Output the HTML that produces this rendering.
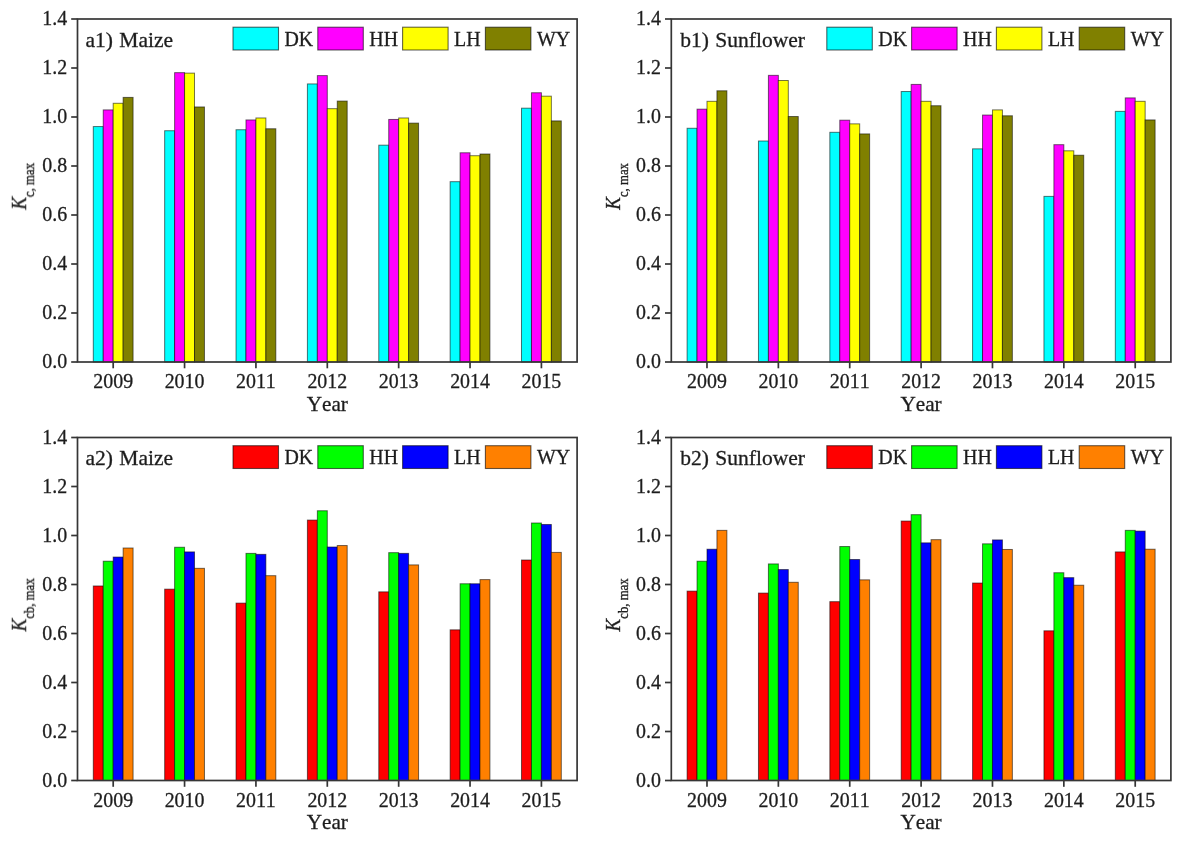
<!DOCTYPE html>
<html><head><meta charset="utf-8"><title>chart</title>
<style>
html,body{margin:0;padding:0;background:#fff;}
body{width:1181px;height:842px;overflow:hidden;}
svg{display:block;font-family:"Liberation Serif",serif;}
text{fill:#1e1e1e;stroke:#1e1e1e;stroke-width:0.3px;font-kerning:none;}
</style></head><body>
<svg width="1181" height="842" viewBox="0 0 1181 842">
<rect width="1181" height="842" fill="#ffffff"/>
<defs><filter id="bl" x="0" y="0" width="1181" height="842" filterUnits="userSpaceOnUse"><feGaussianBlur stdDeviation="0.55"/></filter></defs>
<g id="all" filter="url(#bl)">
<g>
<rect x="93.29" y="126.55" width="9.95" height="235.45" fill="#00ffff" stroke="#000" stroke-opacity="0.55" stroke-width="1.0"/>
<rect x="103.24" y="109.90" width="9.95" height="252.10" fill="#ff00ff" stroke="#000" stroke-opacity="0.55" stroke-width="1.0"/>
<rect x="113.19" y="103.28" width="9.95" height="258.72" fill="#ffff00" stroke="#000" stroke-opacity="0.55" stroke-width="1.0"/>
<rect x="123.14" y="97.40" width="9.95" height="264.60" fill="#808000" stroke="#000" stroke-opacity="0.55" stroke-width="1.0"/>
<rect x="164.66" y="130.72" width="9.95" height="231.28" fill="#00ffff" stroke="#000" stroke-opacity="0.55" stroke-width="1.0"/>
<rect x="174.61" y="72.65" width="9.95" height="289.35" fill="#ff00ff" stroke="#000" stroke-opacity="0.55" stroke-width="1.0"/>
<rect x="184.56" y="73.14" width="9.95" height="288.86" fill="#ffff00" stroke="#000" stroke-opacity="0.55" stroke-width="1.0"/>
<rect x="194.51" y="106.96" width="9.95" height="255.04" fill="#808000" stroke="#000" stroke-opacity="0.55" stroke-width="1.0"/>
<rect x="236.03" y="129.74" width="9.95" height="232.26" fill="#00ffff" stroke="#000" stroke-opacity="0.55" stroke-width="1.0"/>
<rect x="245.98" y="119.94" width="9.95" height="242.06" fill="#ff00ff" stroke="#000" stroke-opacity="0.55" stroke-width="1.0"/>
<rect x="255.93" y="117.98" width="9.95" height="244.02" fill="#ffff00" stroke="#000" stroke-opacity="0.55" stroke-width="1.0"/>
<rect x="265.88" y="128.76" width="9.95" height="233.24" fill="#808000" stroke="#000" stroke-opacity="0.55" stroke-width="1.0"/>
<rect x="307.40" y="83.93" width="9.95" height="278.07" fill="#00ffff" stroke="#000" stroke-opacity="0.55" stroke-width="1.0"/>
<rect x="317.35" y="75.59" width="9.95" height="286.41" fill="#ff00ff" stroke="#000" stroke-opacity="0.55" stroke-width="1.0"/>
<rect x="327.30" y="108.67" width="9.95" height="253.33" fill="#ffff00" stroke="#000" stroke-opacity="0.55" stroke-width="1.0"/>
<rect x="337.25" y="101.07" width="9.95" height="260.93" fill="#808000" stroke="#000" stroke-opacity="0.55" stroke-width="1.0"/>
<rect x="378.77" y="145.17" width="9.95" height="216.83" fill="#00ffff" stroke="#000" stroke-opacity="0.55" stroke-width="1.0"/>
<rect x="388.72" y="119.45" width="9.95" height="242.55" fill="#ff00ff" stroke="#000" stroke-opacity="0.55" stroke-width="1.0"/>
<rect x="398.67" y="117.98" width="9.95" height="244.02" fill="#ffff00" stroke="#000" stroke-opacity="0.55" stroke-width="1.0"/>
<rect x="408.62" y="123.12" width="9.95" height="238.88" fill="#808000" stroke="#000" stroke-opacity="0.55" stroke-width="1.0"/>
<rect x="450.14" y="181.68" width="9.95" height="180.32" fill="#00ffff" stroke="#000" stroke-opacity="0.55" stroke-width="1.0"/>
<rect x="460.09" y="152.77" width="9.95" height="209.23" fill="#ff00ff" stroke="#000" stroke-opacity="0.55" stroke-width="1.0"/>
<rect x="470.04" y="155.71" width="9.95" height="206.29" fill="#ffff00" stroke="#000" stroke-opacity="0.55" stroke-width="1.0"/>
<rect x="479.99" y="154.00" width="9.95" height="208.00" fill="#808000" stroke="#000" stroke-opacity="0.55" stroke-width="1.0"/>
<rect x="521.51" y="108.18" width="9.95" height="253.82" fill="#00ffff" stroke="#000" stroke-opacity="0.55" stroke-width="1.0"/>
<rect x="531.46" y="92.75" width="9.95" height="269.25" fill="#ff00ff" stroke="#000" stroke-opacity="0.55" stroke-width="1.0"/>
<rect x="541.41" y="96.18" width="9.95" height="265.82" fill="#ffff00" stroke="#000" stroke-opacity="0.55" stroke-width="1.0"/>
<rect x="551.36" y="120.92" width="9.95" height="241.08" fill="#808000" stroke="#000" stroke-opacity="0.55" stroke-width="1.0"/>
<rect x="77.50" y="19.00" width="499.60" height="343.00" fill="none" stroke="#363636" stroke-width="1.7"/>
<line x1="71.20" y1="362.00" x2="77.50" y2="362.00" stroke="#363636" stroke-width="1.7"/>
<text x="67.10" y="368.40" font-size="19.9" text-anchor="end">0.0</text>
<line x1="71.20" y1="313.00" x2="77.50" y2="313.00" stroke="#363636" stroke-width="1.7"/>
<text x="67.10" y="319.40" font-size="19.9" text-anchor="end">0.2</text>
<line x1="71.20" y1="264.00" x2="77.50" y2="264.00" stroke="#363636" stroke-width="1.7"/>
<text x="67.10" y="270.40" font-size="19.9" text-anchor="end">0.4</text>
<line x1="71.20" y1="215.00" x2="77.50" y2="215.00" stroke="#363636" stroke-width="1.7"/>
<text x="67.10" y="221.40" font-size="19.9" text-anchor="end">0.6</text>
<line x1="71.20" y1="166.00" x2="77.50" y2="166.00" stroke="#363636" stroke-width="1.7"/>
<text x="67.10" y="172.40" font-size="19.9" text-anchor="end">0.8</text>
<line x1="71.20" y1="117.00" x2="77.50" y2="117.00" stroke="#363636" stroke-width="1.7"/>
<text x="67.10" y="123.40" font-size="19.9" text-anchor="end">1.0</text>
<line x1="71.20" y1="68.00" x2="77.50" y2="68.00" stroke="#363636" stroke-width="1.7"/>
<text x="67.10" y="74.40" font-size="19.9" text-anchor="end">1.2</text>
<line x1="71.20" y1="19.00" x2="77.50" y2="19.00" stroke="#363636" stroke-width="1.7"/>
<text x="67.10" y="25.40" font-size="19.9" text-anchor="end">1.4</text>
<line x1="113.19" y1="362.00" x2="113.19" y2="368.30" stroke="#363636" stroke-width="1.7"/>
<text x="113.19" y="388.10" font-size="19.9" text-anchor="middle">2009</text>
<line x1="184.56" y1="362.00" x2="184.56" y2="368.30" stroke="#363636" stroke-width="1.7"/>
<text x="184.56" y="388.10" font-size="19.9" text-anchor="middle">2010</text>
<line x1="255.93" y1="362.00" x2="255.93" y2="368.30" stroke="#363636" stroke-width="1.7"/>
<text x="255.93" y="388.10" font-size="19.9" text-anchor="middle">2011</text>
<line x1="327.30" y1="362.00" x2="327.30" y2="368.30" stroke="#363636" stroke-width="1.7"/>
<text x="327.30" y="388.10" font-size="19.9" text-anchor="middle">2012</text>
<line x1="398.67" y1="362.00" x2="398.67" y2="368.30" stroke="#363636" stroke-width="1.7"/>
<text x="398.67" y="388.10" font-size="19.9" text-anchor="middle">2013</text>
<line x1="470.04" y1="362.00" x2="470.04" y2="368.30" stroke="#363636" stroke-width="1.7"/>
<text x="470.04" y="388.10" font-size="19.9" text-anchor="middle">2014</text>
<line x1="541.41" y1="362.00" x2="541.41" y2="368.30" stroke="#363636" stroke-width="1.7"/>
<text x="541.41" y="388.10" font-size="19.9" text-anchor="middle">2015</text>
<text x="327.30" y="410.60" font-size="21.2" text-anchor="middle">Year</text>
<text transform="translate(26.20 186.40) rotate(-90) scale(0.925 1.065)" font-size="20.5" text-anchor="middle"><tspan font-style="italic">K</tspan><tspan font-size="13.8" dy="7.4">c, max</tspan></text>
<text transform="translate(85.50 46.60) scale(1.025 1)" font-size="21" word-spacing="0.9">a1) Maize</text>
<rect x="233.00" y="27.20" width="45.50" height="22.80" fill="#00ffff" stroke="#000" stroke-opacity="0.6" stroke-width="1.1"/>
<text x="284.50" y="45.70" font-size="19.9">DK</text>
<rect x="317.80" y="27.20" width="45.50" height="22.80" fill="#ff00ff" stroke="#000" stroke-opacity="0.6" stroke-width="1.1"/>
<text x="369.30" y="45.70" font-size="19.9">HH</text>
<rect x="402.60" y="27.20" width="45.50" height="22.80" fill="#ffff00" stroke="#000" stroke-opacity="0.6" stroke-width="1.1"/>
<text x="454.10" y="45.70" font-size="19.9">LH</text>
<rect x="485.40" y="27.20" width="45.50" height="22.80" fill="#808000" stroke="#000" stroke-opacity="0.6" stroke-width="1.1"/>
<text x="536.90" y="45.70" font-size="19.9">WY</text>
</g>
<g>
<rect x="687.09" y="128.27" width="9.95" height="233.73" fill="#00ffff" stroke="#000" stroke-opacity="0.55" stroke-width="1.0"/>
<rect x="697.04" y="109.16" width="9.95" height="252.84" fill="#ff00ff" stroke="#000" stroke-opacity="0.55" stroke-width="1.0"/>
<rect x="706.99" y="101.32" width="9.95" height="260.68" fill="#ffff00" stroke="#000" stroke-opacity="0.55" stroke-width="1.0"/>
<rect x="716.94" y="90.79" width="9.95" height="271.21" fill="#808000" stroke="#000" stroke-opacity="0.55" stroke-width="1.0"/>
<rect x="758.46" y="141.01" width="9.95" height="220.99" fill="#00ffff" stroke="#000" stroke-opacity="0.55" stroke-width="1.0"/>
<rect x="768.41" y="75.35" width="9.95" height="286.65" fill="#ff00ff" stroke="#000" stroke-opacity="0.55" stroke-width="1.0"/>
<rect x="778.36" y="80.50" width="9.95" height="281.50" fill="#ffff00" stroke="#000" stroke-opacity="0.55" stroke-width="1.0"/>
<rect x="788.31" y="116.51" width="9.95" height="245.49" fill="#808000" stroke="#000" stroke-opacity="0.55" stroke-width="1.0"/>
<rect x="829.83" y="132.31" width="9.95" height="229.69" fill="#00ffff" stroke="#000" stroke-opacity="0.55" stroke-width="1.0"/>
<rect x="839.78" y="120.18" width="9.95" height="241.82" fill="#ff00ff" stroke="#000" stroke-opacity="0.55" stroke-width="1.0"/>
<rect x="849.73" y="123.86" width="9.95" height="238.14" fill="#ffff00" stroke="#000" stroke-opacity="0.55" stroke-width="1.0"/>
<rect x="859.68" y="133.91" width="9.95" height="228.09" fill="#808000" stroke="#000" stroke-opacity="0.55" stroke-width="1.0"/>
<rect x="901.20" y="91.52" width="9.95" height="270.48" fill="#00ffff" stroke="#000" stroke-opacity="0.55" stroke-width="1.0"/>
<rect x="911.15" y="84.41" width="9.95" height="277.59" fill="#ff00ff" stroke="#000" stroke-opacity="0.55" stroke-width="1.0"/>
<rect x="921.10" y="101.32" width="9.95" height="260.68" fill="#ffff00" stroke="#000" stroke-opacity="0.55" stroke-width="1.0"/>
<rect x="931.05" y="105.73" width="9.95" height="256.27" fill="#808000" stroke="#000" stroke-opacity="0.55" stroke-width="1.0"/>
<rect x="972.57" y="148.85" width="9.95" height="213.15" fill="#00ffff" stroke="#000" stroke-opacity="0.55" stroke-width="1.0"/>
<rect x="982.52" y="115.04" width="9.95" height="246.96" fill="#ff00ff" stroke="#000" stroke-opacity="0.55" stroke-width="1.0"/>
<rect x="992.47" y="109.90" width="9.95" height="252.10" fill="#ffff00" stroke="#000" stroke-opacity="0.55" stroke-width="1.0"/>
<rect x="1002.42" y="115.78" width="9.95" height="246.22" fill="#808000" stroke="#000" stroke-opacity="0.55" stroke-width="1.0"/>
<rect x="1043.94" y="196.38" width="9.95" height="165.62" fill="#00ffff" stroke="#000" stroke-opacity="0.55" stroke-width="1.0"/>
<rect x="1053.89" y="144.68" width="9.95" height="217.32" fill="#ff00ff" stroke="#000" stroke-opacity="0.55" stroke-width="1.0"/>
<rect x="1063.84" y="150.81" width="9.95" height="211.19" fill="#ffff00" stroke="#000" stroke-opacity="0.55" stroke-width="1.0"/>
<rect x="1073.79" y="155.22" width="9.95" height="206.78" fill="#808000" stroke="#000" stroke-opacity="0.55" stroke-width="1.0"/>
<rect x="1115.31" y="111.37" width="9.95" height="250.63" fill="#00ffff" stroke="#000" stroke-opacity="0.55" stroke-width="1.0"/>
<rect x="1125.26" y="97.89" width="9.95" height="264.11" fill="#ff00ff" stroke="#000" stroke-opacity="0.55" stroke-width="1.0"/>
<rect x="1135.21" y="101.32" width="9.95" height="260.68" fill="#ffff00" stroke="#000" stroke-opacity="0.55" stroke-width="1.0"/>
<rect x="1145.16" y="119.94" width="9.95" height="242.06" fill="#808000" stroke="#000" stroke-opacity="0.55" stroke-width="1.0"/>
<rect x="671.30" y="19.00" width="499.60" height="343.00" fill="none" stroke="#363636" stroke-width="1.7"/>
<line x1="665.00" y1="362.00" x2="671.30" y2="362.00" stroke="#363636" stroke-width="1.7"/>
<text x="660.90" y="368.40" font-size="19.9" text-anchor="end">0.0</text>
<line x1="665.00" y1="313.00" x2="671.30" y2="313.00" stroke="#363636" stroke-width="1.7"/>
<text x="660.90" y="319.40" font-size="19.9" text-anchor="end">0.2</text>
<line x1="665.00" y1="264.00" x2="671.30" y2="264.00" stroke="#363636" stroke-width="1.7"/>
<text x="660.90" y="270.40" font-size="19.9" text-anchor="end">0.4</text>
<line x1="665.00" y1="215.00" x2="671.30" y2="215.00" stroke="#363636" stroke-width="1.7"/>
<text x="660.90" y="221.40" font-size="19.9" text-anchor="end">0.6</text>
<line x1="665.00" y1="166.00" x2="671.30" y2="166.00" stroke="#363636" stroke-width="1.7"/>
<text x="660.90" y="172.40" font-size="19.9" text-anchor="end">0.8</text>
<line x1="665.00" y1="117.00" x2="671.30" y2="117.00" stroke="#363636" stroke-width="1.7"/>
<text x="660.90" y="123.40" font-size="19.9" text-anchor="end">1.0</text>
<line x1="665.00" y1="68.00" x2="671.30" y2="68.00" stroke="#363636" stroke-width="1.7"/>
<text x="660.90" y="74.40" font-size="19.9" text-anchor="end">1.2</text>
<line x1="665.00" y1="19.00" x2="671.30" y2="19.00" stroke="#363636" stroke-width="1.7"/>
<text x="660.90" y="25.40" font-size="19.9" text-anchor="end">1.4</text>
<line x1="706.99" y1="362.00" x2="706.99" y2="368.30" stroke="#363636" stroke-width="1.7"/>
<text x="706.99" y="388.10" font-size="19.9" text-anchor="middle">2009</text>
<line x1="778.36" y1="362.00" x2="778.36" y2="368.30" stroke="#363636" stroke-width="1.7"/>
<text x="778.36" y="388.10" font-size="19.9" text-anchor="middle">2010</text>
<line x1="849.73" y1="362.00" x2="849.73" y2="368.30" stroke="#363636" stroke-width="1.7"/>
<text x="849.73" y="388.10" font-size="19.9" text-anchor="middle">2011</text>
<line x1="921.10" y1="362.00" x2="921.10" y2="368.30" stroke="#363636" stroke-width="1.7"/>
<text x="921.10" y="388.10" font-size="19.9" text-anchor="middle">2012</text>
<line x1="992.47" y1="362.00" x2="992.47" y2="368.30" stroke="#363636" stroke-width="1.7"/>
<text x="992.47" y="388.10" font-size="19.9" text-anchor="middle">2013</text>
<line x1="1063.84" y1="362.00" x2="1063.84" y2="368.30" stroke="#363636" stroke-width="1.7"/>
<text x="1063.84" y="388.10" font-size="19.9" text-anchor="middle">2014</text>
<line x1="1135.21" y1="362.00" x2="1135.21" y2="368.30" stroke="#363636" stroke-width="1.7"/>
<text x="1135.21" y="388.10" font-size="19.9" text-anchor="middle">2015</text>
<text x="921.10" y="410.60" font-size="21.2" text-anchor="middle">Year</text>
<text transform="translate(620.00 186.40) rotate(-90) scale(0.925 1.065)" font-size="20.5" text-anchor="middle"><tspan font-style="italic">K</tspan><tspan font-size="13.8" dy="7.4">c, max</tspan></text>
<text transform="translate(680.30 46.60) scale(1.025 1)" font-size="21" word-spacing="0.9">b1) Sunflower</text>
<rect x="826.80" y="27.20" width="45.50" height="22.80" fill="#00ffff" stroke="#000" stroke-opacity="0.6" stroke-width="1.1"/>
<text x="878.30" y="45.70" font-size="19.9">DK</text>
<rect x="911.60" y="27.20" width="45.50" height="22.80" fill="#ff00ff" stroke="#000" stroke-opacity="0.6" stroke-width="1.1"/>
<text x="963.10" y="45.70" font-size="19.9">HH</text>
<rect x="996.40" y="27.20" width="45.50" height="22.80" fill="#ffff00" stroke="#000" stroke-opacity="0.6" stroke-width="1.1"/>
<text x="1047.90" y="45.70" font-size="19.9">LH</text>
<rect x="1079.20" y="27.20" width="45.50" height="22.80" fill="#808000" stroke="#000" stroke-opacity="0.6" stroke-width="1.1"/>
<text x="1130.70" y="45.70" font-size="19.9">WY</text>
</g>
<g>
<rect x="93.29" y="585.97" width="9.95" height="194.53" fill="#ff0000" stroke="#000" stroke-opacity="0.55" stroke-width="1.0"/>
<rect x="103.24" y="561.22" width="9.95" height="219.28" fill="#00ff00" stroke="#000" stroke-opacity="0.55" stroke-width="1.0"/>
<rect x="113.19" y="557.06" width="9.95" height="223.44" fill="#0000ff" stroke="#000" stroke-opacity="0.55" stroke-width="1.0"/>
<rect x="123.14" y="548.00" width="9.95" height="232.50" fill="#ff8000" stroke="#000" stroke-opacity="0.55" stroke-width="1.0"/>
<rect x="164.66" y="589.15" width="9.95" height="191.35" fill="#ff0000" stroke="#000" stroke-opacity="0.55" stroke-width="1.0"/>
<rect x="174.61" y="547.26" width="9.95" height="233.24" fill="#00ff00" stroke="#000" stroke-opacity="0.55" stroke-width="1.0"/>
<rect x="184.56" y="551.91" width="9.95" height="228.59" fill="#0000ff" stroke="#000" stroke-opacity="0.55" stroke-width="1.0"/>
<rect x="194.51" y="568.33" width="9.95" height="212.17" fill="#ff8000" stroke="#000" stroke-opacity="0.55" stroke-width="1.0"/>
<rect x="236.03" y="603.12" width="9.95" height="177.38" fill="#ff0000" stroke="#000" stroke-opacity="0.55" stroke-width="1.0"/>
<rect x="245.98" y="553.38" width="9.95" height="227.12" fill="#00ff00" stroke="#000" stroke-opacity="0.55" stroke-width="1.0"/>
<rect x="255.93" y="554.37" width="9.95" height="226.14" fill="#0000ff" stroke="#000" stroke-opacity="0.55" stroke-width="1.0"/>
<rect x="265.88" y="575.68" width="9.95" height="204.82" fill="#ff8000" stroke="#000" stroke-opacity="0.55" stroke-width="1.0"/>
<rect x="307.40" y="520.07" width="9.95" height="260.44" fill="#ff0000" stroke="#000" stroke-opacity="0.55" stroke-width="1.0"/>
<rect x="317.35" y="510.75" width="9.95" height="269.75" fill="#00ff00" stroke="#000" stroke-opacity="0.55" stroke-width="1.0"/>
<rect x="327.30" y="547.01" width="9.95" height="233.49" fill="#0000ff" stroke="#000" stroke-opacity="0.55" stroke-width="1.0"/>
<rect x="337.25" y="545.54" width="9.95" height="234.96" fill="#ff8000" stroke="#000" stroke-opacity="0.55" stroke-width="1.0"/>
<rect x="378.77" y="591.85" width="9.95" height="188.65" fill="#ff0000" stroke="#000" stroke-opacity="0.55" stroke-width="1.0"/>
<rect x="388.72" y="552.65" width="9.95" height="227.85" fill="#00ff00" stroke="#000" stroke-opacity="0.55" stroke-width="1.0"/>
<rect x="398.67" y="553.38" width="9.95" height="227.12" fill="#0000ff" stroke="#000" stroke-opacity="0.55" stroke-width="1.0"/>
<rect x="408.62" y="564.90" width="9.95" height="215.60" fill="#ff8000" stroke="#000" stroke-opacity="0.55" stroke-width="1.0"/>
<rect x="450.14" y="629.83" width="9.95" height="150.68" fill="#ff0000" stroke="#000" stroke-opacity="0.55" stroke-width="1.0"/>
<rect x="460.09" y="583.76" width="9.95" height="196.74" fill="#00ff00" stroke="#000" stroke-opacity="0.55" stroke-width="1.0"/>
<rect x="470.04" y="583.76" width="9.95" height="196.74" fill="#0000ff" stroke="#000" stroke-opacity="0.55" stroke-width="1.0"/>
<rect x="479.99" y="579.60" width="9.95" height="200.90" fill="#ff8000" stroke="#000" stroke-opacity="0.55" stroke-width="1.0"/>
<rect x="521.51" y="560.00" width="9.95" height="220.50" fill="#ff0000" stroke="#000" stroke-opacity="0.55" stroke-width="1.0"/>
<rect x="531.46" y="523.00" width="9.95" height="257.50" fill="#00ff00" stroke="#000" stroke-opacity="0.55" stroke-width="1.0"/>
<rect x="541.41" y="524.48" width="9.95" height="256.02" fill="#0000ff" stroke="#000" stroke-opacity="0.55" stroke-width="1.0"/>
<rect x="551.36" y="552.40" width="9.95" height="228.09" fill="#ff8000" stroke="#000" stroke-opacity="0.55" stroke-width="1.0"/>
<rect x="77.50" y="437.50" width="499.60" height="343.00" fill="none" stroke="#363636" stroke-width="1.7"/>
<line x1="71.20" y1="780.50" x2="77.50" y2="780.50" stroke="#363636" stroke-width="1.7"/>
<text x="67.10" y="786.90" font-size="19.9" text-anchor="end">0.0</text>
<line x1="71.20" y1="731.50" x2="77.50" y2="731.50" stroke="#363636" stroke-width="1.7"/>
<text x="67.10" y="737.90" font-size="19.9" text-anchor="end">0.2</text>
<line x1="71.20" y1="682.50" x2="77.50" y2="682.50" stroke="#363636" stroke-width="1.7"/>
<text x="67.10" y="688.90" font-size="19.9" text-anchor="end">0.4</text>
<line x1="71.20" y1="633.50" x2="77.50" y2="633.50" stroke="#363636" stroke-width="1.7"/>
<text x="67.10" y="639.90" font-size="19.9" text-anchor="end">0.6</text>
<line x1="71.20" y1="584.50" x2="77.50" y2="584.50" stroke="#363636" stroke-width="1.7"/>
<text x="67.10" y="590.90" font-size="19.9" text-anchor="end">0.8</text>
<line x1="71.20" y1="535.50" x2="77.50" y2="535.50" stroke="#363636" stroke-width="1.7"/>
<text x="67.10" y="541.90" font-size="19.9" text-anchor="end">1.0</text>
<line x1="71.20" y1="486.50" x2="77.50" y2="486.50" stroke="#363636" stroke-width="1.7"/>
<text x="67.10" y="492.90" font-size="19.9" text-anchor="end">1.2</text>
<line x1="71.20" y1="437.50" x2="77.50" y2="437.50" stroke="#363636" stroke-width="1.7"/>
<text x="67.10" y="443.90" font-size="19.9" text-anchor="end">1.4</text>
<line x1="113.19" y1="780.50" x2="113.19" y2="786.80" stroke="#363636" stroke-width="1.7"/>
<text x="113.19" y="806.60" font-size="19.9" text-anchor="middle">2009</text>
<line x1="184.56" y1="780.50" x2="184.56" y2="786.80" stroke="#363636" stroke-width="1.7"/>
<text x="184.56" y="806.60" font-size="19.9" text-anchor="middle">2010</text>
<line x1="255.93" y1="780.50" x2="255.93" y2="786.80" stroke="#363636" stroke-width="1.7"/>
<text x="255.93" y="806.60" font-size="19.9" text-anchor="middle">2011</text>
<line x1="327.30" y1="780.50" x2="327.30" y2="786.80" stroke="#363636" stroke-width="1.7"/>
<text x="327.30" y="806.60" font-size="19.9" text-anchor="middle">2012</text>
<line x1="398.67" y1="780.50" x2="398.67" y2="786.80" stroke="#363636" stroke-width="1.7"/>
<text x="398.67" y="806.60" font-size="19.9" text-anchor="middle">2013</text>
<line x1="470.04" y1="780.50" x2="470.04" y2="786.80" stroke="#363636" stroke-width="1.7"/>
<text x="470.04" y="806.60" font-size="19.9" text-anchor="middle">2014</text>
<line x1="541.41" y1="780.50" x2="541.41" y2="786.80" stroke="#363636" stroke-width="1.7"/>
<text x="541.41" y="806.60" font-size="19.9" text-anchor="middle">2015</text>
<text x="327.30" y="829.10" font-size="21.2" text-anchor="middle">Year</text>
<text transform="translate(26.20 604.90) rotate(-90) scale(0.925 1.065)" font-size="20.5" text-anchor="middle"><tspan font-style="italic">K</tspan><tspan font-size="13.8" dy="7.4">cb, max</tspan></text>
<text transform="translate(85.50 465.10) scale(1.025 1)" font-size="21" word-spacing="0.9">a2) Maize</text>
<rect x="233.00" y="445.70" width="45.50" height="22.80" fill="#ff0000" stroke="#000" stroke-opacity="0.6" stroke-width="1.1"/>
<text x="284.50" y="464.20" font-size="19.9">DK</text>
<rect x="317.80" y="445.70" width="45.50" height="22.80" fill="#00ff00" stroke="#000" stroke-opacity="0.6" stroke-width="1.1"/>
<text x="369.30" y="464.20" font-size="19.9">HH</text>
<rect x="402.60" y="445.70" width="45.50" height="22.80" fill="#0000ff" stroke="#000" stroke-opacity="0.6" stroke-width="1.1"/>
<text x="454.10" y="464.20" font-size="19.9">LH</text>
<rect x="485.40" y="445.70" width="45.50" height="22.80" fill="#ff8000" stroke="#000" stroke-opacity="0.6" stroke-width="1.1"/>
<text x="536.90" y="464.20" font-size="19.9">WY</text>
</g>
<g>
<rect x="687.09" y="591.12" width="9.95" height="189.38" fill="#ff0000" stroke="#000" stroke-opacity="0.55" stroke-width="1.0"/>
<rect x="697.04" y="561.22" width="9.95" height="219.28" fill="#00ff00" stroke="#000" stroke-opacity="0.55" stroke-width="1.0"/>
<rect x="706.99" y="549.22" width="9.95" height="231.28" fill="#0000ff" stroke="#000" stroke-opacity="0.55" stroke-width="1.0"/>
<rect x="716.94" y="530.36" width="9.95" height="250.15" fill="#ff8000" stroke="#000" stroke-opacity="0.55" stroke-width="1.0"/>
<rect x="758.46" y="593.08" width="9.95" height="187.43" fill="#ff0000" stroke="#000" stroke-opacity="0.55" stroke-width="1.0"/>
<rect x="768.41" y="563.92" width="9.95" height="216.58" fill="#00ff00" stroke="#000" stroke-opacity="0.55" stroke-width="1.0"/>
<rect x="778.36" y="569.56" width="9.95" height="210.94" fill="#0000ff" stroke="#000" stroke-opacity="0.55" stroke-width="1.0"/>
<rect x="788.31" y="582.29" width="9.95" height="198.21" fill="#ff8000" stroke="#000" stroke-opacity="0.55" stroke-width="1.0"/>
<rect x="829.83" y="601.65" width="9.95" height="178.85" fill="#ff0000" stroke="#000" stroke-opacity="0.55" stroke-width="1.0"/>
<rect x="839.78" y="546.52" width="9.95" height="233.97" fill="#00ff00" stroke="#000" stroke-opacity="0.55" stroke-width="1.0"/>
<rect x="849.73" y="559.51" width="9.95" height="220.99" fill="#0000ff" stroke="#000" stroke-opacity="0.55" stroke-width="1.0"/>
<rect x="859.68" y="579.85" width="9.95" height="200.66" fill="#ff8000" stroke="#000" stroke-opacity="0.55" stroke-width="1.0"/>
<rect x="901.20" y="521.05" width="9.95" height="259.45" fill="#ff0000" stroke="#000" stroke-opacity="0.55" stroke-width="1.0"/>
<rect x="911.15" y="514.67" width="9.95" height="265.82" fill="#00ff00" stroke="#000" stroke-opacity="0.55" stroke-width="1.0"/>
<rect x="921.10" y="542.85" width="9.95" height="237.65" fill="#0000ff" stroke="#000" stroke-opacity="0.55" stroke-width="1.0"/>
<rect x="931.05" y="539.66" width="9.95" height="240.84" fill="#ff8000" stroke="#000" stroke-opacity="0.55" stroke-width="1.0"/>
<rect x="972.57" y="583.03" width="9.95" height="197.47" fill="#ff0000" stroke="#000" stroke-opacity="0.55" stroke-width="1.0"/>
<rect x="982.52" y="543.83" width="9.95" height="236.67" fill="#00ff00" stroke="#000" stroke-opacity="0.55" stroke-width="1.0"/>
<rect x="992.47" y="539.91" width="9.95" height="240.59" fill="#0000ff" stroke="#000" stroke-opacity="0.55" stroke-width="1.0"/>
<rect x="1002.42" y="549.47" width="9.95" height="231.03" fill="#ff8000" stroke="#000" stroke-opacity="0.55" stroke-width="1.0"/>
<rect x="1043.94" y="630.81" width="9.95" height="149.69" fill="#ff0000" stroke="#000" stroke-opacity="0.55" stroke-width="1.0"/>
<rect x="1053.89" y="572.74" width="9.95" height="207.76" fill="#00ff00" stroke="#000" stroke-opacity="0.55" stroke-width="1.0"/>
<rect x="1063.84" y="577.64" width="9.95" height="202.86" fill="#0000ff" stroke="#000" stroke-opacity="0.55" stroke-width="1.0"/>
<rect x="1073.79" y="585.23" width="9.95" height="195.27" fill="#ff8000" stroke="#000" stroke-opacity="0.55" stroke-width="1.0"/>
<rect x="1115.31" y="551.91" width="9.95" height="228.59" fill="#ff0000" stroke="#000" stroke-opacity="0.55" stroke-width="1.0"/>
<rect x="1125.26" y="530.36" width="9.95" height="250.15" fill="#00ff00" stroke="#000" stroke-opacity="0.55" stroke-width="1.0"/>
<rect x="1135.21" y="531.09" width="9.95" height="249.41" fill="#0000ff" stroke="#000" stroke-opacity="0.55" stroke-width="1.0"/>
<rect x="1145.16" y="549.22" width="9.95" height="231.28" fill="#ff8000" stroke="#000" stroke-opacity="0.55" stroke-width="1.0"/>
<rect x="671.30" y="437.50" width="499.60" height="343.00" fill="none" stroke="#363636" stroke-width="1.7"/>
<line x1="665.00" y1="780.50" x2="671.30" y2="780.50" stroke="#363636" stroke-width="1.7"/>
<text x="660.90" y="786.90" font-size="19.9" text-anchor="end">0.0</text>
<line x1="665.00" y1="731.50" x2="671.30" y2="731.50" stroke="#363636" stroke-width="1.7"/>
<text x="660.90" y="737.90" font-size="19.9" text-anchor="end">0.2</text>
<line x1="665.00" y1="682.50" x2="671.30" y2="682.50" stroke="#363636" stroke-width="1.7"/>
<text x="660.90" y="688.90" font-size="19.9" text-anchor="end">0.4</text>
<line x1="665.00" y1="633.50" x2="671.30" y2="633.50" stroke="#363636" stroke-width="1.7"/>
<text x="660.90" y="639.90" font-size="19.9" text-anchor="end">0.6</text>
<line x1="665.00" y1="584.50" x2="671.30" y2="584.50" stroke="#363636" stroke-width="1.7"/>
<text x="660.90" y="590.90" font-size="19.9" text-anchor="end">0.8</text>
<line x1="665.00" y1="535.50" x2="671.30" y2="535.50" stroke="#363636" stroke-width="1.7"/>
<text x="660.90" y="541.90" font-size="19.9" text-anchor="end">1.0</text>
<line x1="665.00" y1="486.50" x2="671.30" y2="486.50" stroke="#363636" stroke-width="1.7"/>
<text x="660.90" y="492.90" font-size="19.9" text-anchor="end">1.2</text>
<line x1="665.00" y1="437.50" x2="671.30" y2="437.50" stroke="#363636" stroke-width="1.7"/>
<text x="660.90" y="443.90" font-size="19.9" text-anchor="end">1.4</text>
<line x1="706.99" y1="780.50" x2="706.99" y2="786.80" stroke="#363636" stroke-width="1.7"/>
<text x="706.99" y="806.60" font-size="19.9" text-anchor="middle">2009</text>
<line x1="778.36" y1="780.50" x2="778.36" y2="786.80" stroke="#363636" stroke-width="1.7"/>
<text x="778.36" y="806.60" font-size="19.9" text-anchor="middle">2010</text>
<line x1="849.73" y1="780.50" x2="849.73" y2="786.80" stroke="#363636" stroke-width="1.7"/>
<text x="849.73" y="806.60" font-size="19.9" text-anchor="middle">2011</text>
<line x1="921.10" y1="780.50" x2="921.10" y2="786.80" stroke="#363636" stroke-width="1.7"/>
<text x="921.10" y="806.60" font-size="19.9" text-anchor="middle">2012</text>
<line x1="992.47" y1="780.50" x2="992.47" y2="786.80" stroke="#363636" stroke-width="1.7"/>
<text x="992.47" y="806.60" font-size="19.9" text-anchor="middle">2013</text>
<line x1="1063.84" y1="780.50" x2="1063.84" y2="786.80" stroke="#363636" stroke-width="1.7"/>
<text x="1063.84" y="806.60" font-size="19.9" text-anchor="middle">2014</text>
<line x1="1135.21" y1="780.50" x2="1135.21" y2="786.80" stroke="#363636" stroke-width="1.7"/>
<text x="1135.21" y="806.60" font-size="19.9" text-anchor="middle">2015</text>
<text x="921.10" y="829.10" font-size="21.2" text-anchor="middle">Year</text>
<text transform="translate(620.00 604.90) rotate(-90) scale(0.925 1.065)" font-size="20.5" text-anchor="middle"><tspan font-style="italic">K</tspan><tspan font-size="13.8" dy="7.4">cb, max</tspan></text>
<text transform="translate(680.30 465.10) scale(1.025 1)" font-size="21" word-spacing="0.9">b2) Sunflower</text>
<rect x="826.80" y="445.70" width="45.50" height="22.80" fill="#ff0000" stroke="#000" stroke-opacity="0.6" stroke-width="1.1"/>
<text x="878.30" y="464.20" font-size="19.9">DK</text>
<rect x="911.60" y="445.70" width="45.50" height="22.80" fill="#00ff00" stroke="#000" stroke-opacity="0.6" stroke-width="1.1"/>
<text x="963.10" y="464.20" font-size="19.9">HH</text>
<rect x="996.40" y="445.70" width="45.50" height="22.80" fill="#0000ff" stroke="#000" stroke-opacity="0.6" stroke-width="1.1"/>
<text x="1047.90" y="464.20" font-size="19.9">LH</text>
<rect x="1079.20" y="445.70" width="45.50" height="22.80" fill="#ff8000" stroke="#000" stroke-opacity="0.6" stroke-width="1.1"/>
<text x="1130.70" y="464.20" font-size="19.9">WY</text>
</g>
</g></svg></body></html>
